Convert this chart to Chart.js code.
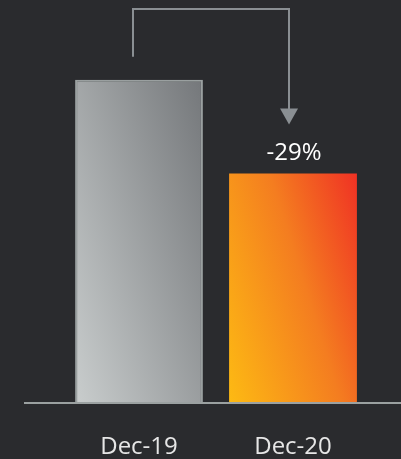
<!DOCTYPE html>
<html>
<head>
<meta charset="utf-8">
<script src="https://cdn.jsdelivr.net/npm/chart.js@4.4.1/dist/chart.umd.min.js"></script>
<style>
  html, body { margin: 0; padding: 0; background: #2a2b2e; }
  #wrap { width: 401px; height: 459px; }
</style>
</head>
<body>
<div id="wrap"><canvas id="chartChange"></canvas></div>
<script>
const labels = ['Dec-19', 'Dec-20'];
const values = [100, 71];

const barPct = 0.83;

// mostly horizontal gradient, light bottom-left -> dark top-right
function barGradient(ctx, stops) {
    const chart = ctx.chart;
    const xs = chart.scales.x, ys = chart.scales.y;
    if (!xs || !ys || !chart.chartArea) return stops[0][1];
    const i = ctx.dataIndex;
    const cx = xs.getPixelForValue(i);
    const w = (xs.getPixelForValue(1) - xs.getPixelForValue(0)) * barPct;
    const left = cx - w / 2;
    const bottom = ys.getPixelForValue(0);
    const g = chart.ctx.createLinearGradient(left, bottom, left + w * 1.6, bottom - w * 0.5);
    stops.forEach(s => g.addColorStop(s[0], s[1]));
    return g;
}

const changePlugin = {
    id: 'change',
    afterDatasetsDraw(chart) {
        const c = chart.ctx;
        const meta = chart.getDatasetMeta(0);
        const b0 = meta.data[0], b1 = meta.data[1];
        const base = chart.scales.y.getPixelForValue(0);

        // baseline
        c.save();
        c.strokeStyle = '#9ba1a1';
        c.lineWidth = 2;
        c.beginPath();
        c.moveTo(24, base);
        c.lineTo(chart.width, base);
        c.stroke();

        // connector
        const x0 = b0.x - 6, x1 = b1.x - 4;
        const topY = 9, tipY = b1.y - 49;
        c.strokeStyle = '#8a8f93';
        c.lineWidth = 2;
        c.beginPath();
        c.moveTo(x0, b0.y - 23);
        c.lineTo(x0, topY);
        c.lineTo(x1, topY);
        c.lineTo(x1, tipY - 14);
        c.stroke();
        c.fillStyle = '#8a8f93';
        c.beginPath();
        c.moveTo(x1 - 9, tipY - 16);
        c.lineTo(x1 + 9, tipY - 16);
        c.lineTo(x1, tipY);
        c.closePath();
        c.fill();

        // change label
        const pct = Math.round((values[1] - values[0]) / values[0] * 100);
        c.fillStyle = '#ffffff';
        c.font = '24px "Open Sans"';
        c.textAlign = 'center';
        c.textBaseline = 'alphabetic';
        c.fillText(pct + '%', b1.x + 1, b1.y - 13);
        c.restore();
    }
};

const ctx1 = document.getElementById('chartChange').getContext('2d');
const chartChange = new Chart(ctx1, {
    type: 'bar',
    data: {
        labels: labels,
        datasets: [{
            data: values,
            backgroundColor: (ctx) => ctx.dataIndex === 0
                ? barGradient(ctx, [[0, '#c9cdcd'], [1, '#76797c']])
                : barGradient(ctx, [[0, '#fdba13'], [0.5, '#f47d20'], [1, '#ee1c25']]),
            borderColor: (ctx) => ctx.dataIndex === 0 ? '#9aa0a0' : 'rgba(0,0,0,0)',
            borderWidth: (ctx) => ctx.dataIndex === 0 ? 2 : 0,
            borderSkipped: 'bottom',
            categoryPercentage: 1,
            barPercentage: barPct
        }]
    },
    options: {
        responsive: true,
        maintainAspectRatio: false,
        animation: false,
        layout: {
            padding: { left: 62, right: 31, top: 15, bottom: -32 }
        },
        plugins: {
            legend: { display: false },
            tooltip: { enabled: false }
        },
        scales: {
            x: {
                grid: { display: false, drawTicks: false },
                border: { display: false },
                ticks: {
                    color: '#e6e6e6',
                    padding: 32,
                    font: { family: 'Open Sans', size: 24, lineHeight: 1 }
                }
            },
            y: {
                display: false,
                min: 0,
                max: 120
            }
        }
    },
    plugins: [changePlugin]
});
</script>
</body>
</html>
